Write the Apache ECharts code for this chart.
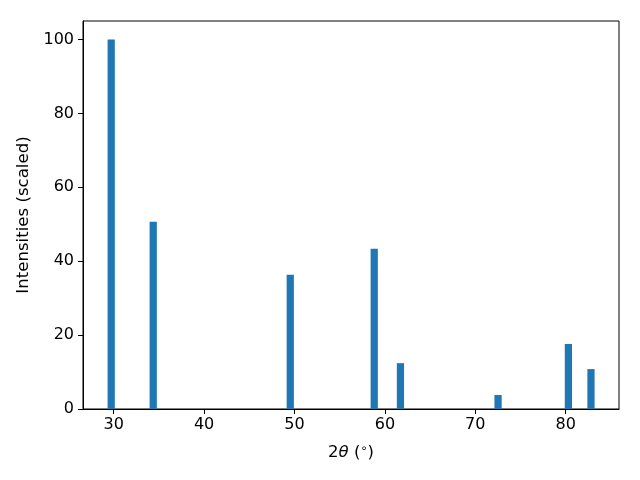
<!DOCTYPE html>
<html>
<head>
<meta charset="utf-8">
<script src="https://cdn.jsdelivr.net/npm/echarts@6/dist/echarts.min.js"></script>
<style>html,body{margin:0;padding:0;background:#fff;}#c{width:640px;height:480px;}</style>
</head>
<body>
<div id="c"></div>
<script>
const twoTheta = [29.72, 34.37, 49.53, 58.82, 61.72, 72.52, 80.30, 82.80];
const intensities = [100, 50.7, 36.3, 43.4, 12.4, 3.8, 17.6, 10.8];
const xTicks = [30, 40, 50, 60, 70, 80];
const yTicks = [0, 20, 40, 60, 80, 100];
const barWidthDeg = 0.8;

const chart = echarts.init(document.getElementById('c'), null, {renderer: 'canvas'});
const font = 'DejaVu Sans';
chart.setOption({
  animation: false,
  grid: {left: 83, right: 21, top: 21, bottom: 71, show: true, borderColor: '#000', borderWidth: 1, backgroundColor: 'transparent'},
  xAxis: {
    type: 'value', min: 26.6, max: 85.9,
    axisLine: {show: true, onZero: false, lineStyle: {color: '#000', width: 1}},
    axisTick: {show: true, inside: false, length: 5, lineStyle: {color: '#000'}, customValues: xTicks},
    axisLabel: {customValues: xTicks, color: '#000', fontFamily: font, fontSize: 16, margin: 8},
    splitLine: {show: false},
    name: '2{i|θ} ({s|∘})', nameLocation: 'middle', nameGap: 34,
    nameTextStyle: {color: '#000', fontFamily: font, fontSize: 16.5,
      rich: {i: {fontStyle: 'italic', fontFamily: font, fontSize: 16.5, color: '#000'},
             s: {fontSize: 11.5, fontFamily: font, color: '#000', verticalAlign: 'top', padding: [0, 0, 8, 0]}}}
  },
  yAxis: {
    type: 'value', min: 0, max: 105,
    axisLine: {show: true, lineStyle: {color: '#000', width: 1}},
    axisTick: {show: true, inside: false, length: 5, lineStyle: {color: '#000'}, customValues: yTicks},
    axisLabel: {customValues: yTicks, color: '#000', fontFamily: font, fontSize: 16, margin: 9},
    splitLine: {show: false},
    name: 'Intensities (scaled)', nameLocation: 'middle', nameGap: 48,
    nameTextStyle: {color: '#000', fontFamily: font, fontSize: 16.6}
  },
  series: [{
    type: 'custom',
    data: twoTheta.map((x, i) => [x, intensities[i]]),
    renderItem: function (params, api) {
      const x = api.value(0), y = api.value(1);
      const p0 = api.coord([x - barWidthDeg / 2, y]);
      const p1 = api.coord([x + barWidthDeg / 2, 0]);
      return {type: 'rect', shape: {x: p0[0], y: p0[1], width: p1[0] - p0[0], height: p1[1] - p0[1]},
              style: {fill: '#1f77b4'}};
    },
    encode: {x: 0, y: 1}
  }]
});
</script>
</body>
</html>
